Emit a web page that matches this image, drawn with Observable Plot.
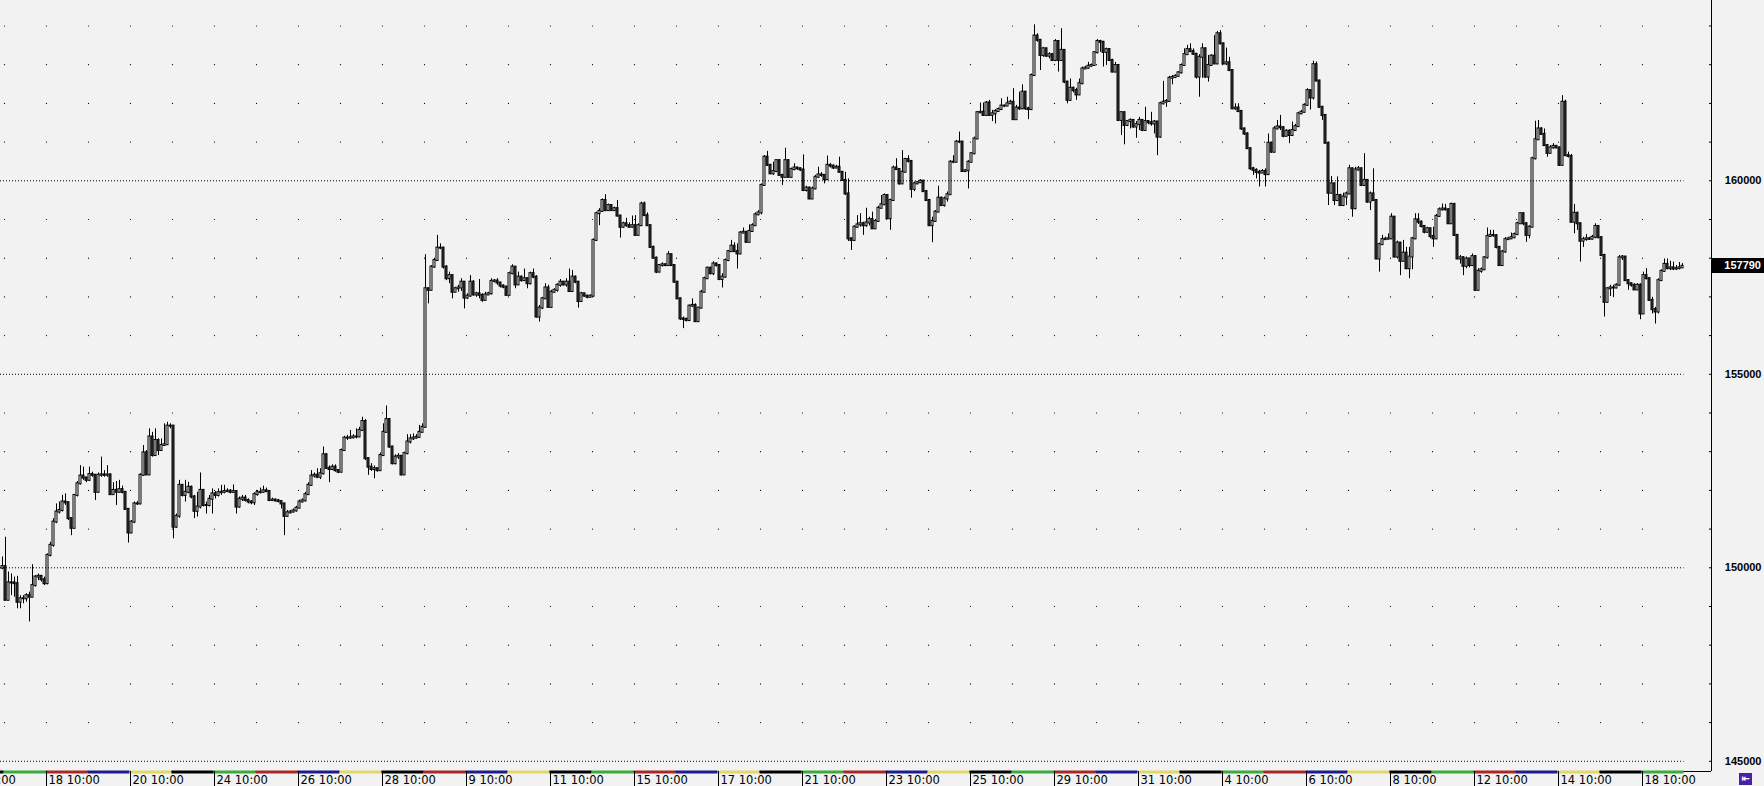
<!DOCTYPE html>
<html><head><meta charset="utf-8">
<script src="https://cdn.jsdelivr.net/npm/d3@7"></script>
<script src="https://cdn.jsdelivr.net/npm/@observablehq/plot@0.6"></script>
<style>
html,body{margin:0;padding:0;background:#f2f2f2;overflow:hidden}
#chart{position:relative;width:1764px;height:786px;background:#f2f2f2}
#chart svg{position:absolute;left:0;top:0}
.pricebox{position:absolute;background:#000;color:#fff;font:bold 11px "Liberation Sans",Arial,sans-serif;text-align:right;box-sizing:border-box;padding-right:3px;line-height:15px;height:15px}
.icon{position:absolute;width:13px;height:12px;background:#4b1fa8;color:#fff;font:bold 10px "DejaVu Sans",sans-serif;line-height:12px;text-align:center}
</style></head><body><div id="chart"></div>
<script>
// Sessions: Dec 14 (last bar only), then Dec 17 2018 .. Feb 18 2019, 14 hourly bars per session
const sessionDays = [14,17,18,19,20,21,24,25,26,27,28,8,9,10,11,14,15,16,17,18,21,22,23,24,25,28,29,30,31,1,4,5,6,7,8,11,12,13,14,15,18];
const sessionWeekdays = [5,1,2,3,4,5,1,2,3,4,5,2,3,4,5,1,2,3,4,5,1,2,3,4,5,1,2,3,4,5,1,2,3,4,5,1,2,3,4,5,1];
const barsPerSession = 14;
const firstOpen = 149990;

const closePrices = [150030,
149160,149610,149610,149590,149110,149200,149200,149280,149240,149540,149760,149780,149690,149590,
150320,150580,151180,151440,151480,151700,151680,151270,151020,151870,152170,152370,152320,152260,
152410,152390,151950,152390,152400,152390,152400,151890,152000,151950,152020,151950,151510,150900,
151180,151650,151650,152390,152970,152400,153380,152900,153290,153030,153160,153180,153660,153660,
151050,151330,152130,151870,151950,152080,151830,151460,151570,152000,151610,151610,151770,151910,
151870,151940,151950,151970,151980,151950,151970,151570,151770,151800,151740,151700,151680,151890,
151940,151950,151990,151970,151740,151750,151730,151710,151650,151330,151420,151440,151470,151540,
151700,151730,151890,152130,152370,152390,152340,152430,152920,152570,152540,152600,152510,152470,
153030,153350,153350,153360,153380,153380,153550,153780,152820,152600,152540,152560,152510,152900,
153500,153830,153120,152690,152860,152880,152400,152950,153250,153330,153350,153370,153500,153630,
157210,157170,157770,157940,158260,158260,157770,157470,157550,157120,157210,157230,157380,156970,
157020,157380,157050,157080,157040,156910,157050,157080,157400,157410,157360,157280,157250,157040,
157600,157770,157310,157510,157420,157470,157340,157600,157510,156480,156710,156950,157230,156730,
157120,157170,157300,157380,157310,157380,157140,157510,157380,156880,157080,157020,156990,157020,
158460,159150,159210,159490,159230,159360,159230,159280,159090,158800,158890,158840,158800,158840,
158590,158840,159400,159100,158840,158280,158000,157640,157810,157830,157810,158090,157810,157380,
156950,156430,156420,156390,156760,156780,156360,156710,157120,157470,157740,157600,157850,157810,
157450,157510,157940,158170,158310,158170,158110,158650,158670,158410,158690,158840,159120,159170,
159880,160610,160400,160180,160240,160520,160140,160090,160520,160090,160290,160330,160310,160280,
159750,159810,159530,159790,160090,160150,160140,160030,160400,160380,160330,160350,160220,160010,
159660,158500,158460,158800,158860,158890,158840,158910,159000,158760,158950,159290,159380,159620,
159020,159490,160330,160290,159920,160220,160550,160500,159780,159920,159950,159990,159720,159490,
158840,158950,159190,159550,159360,159530,159640,160480,160480,161000,161000,160240,160260,160480,
160700,161080,161760,161770,161690,162010,161690,161730,161790,161840,161930,161930,161990,162030,
161580,161880,161860,162290,161860,161840,162720,163740,163630,163240,163410,163220,163260,163110,
163600,163110,163370,162550,162080,162390,162330,162220,162510,162890,162910,162960,162980,163310,
163600,163580,163320,163390,163110,162810,162980,161560,161760,161430,161530,161560,161390,161450,
161560,161300,161530,161500,161470,161520,161130,161990,162030,162050,162650,162670,162700,162790,
162980,163260,163390,163340,163270,162680,163190,163410,162680,162980,163220,163020,163800,163540,
163020,163050,162850,161860,161880,161790,161340,161210,160830,160310,160270,160220,160200,160240,
160160,160970,160740,161340,161390,161370,161150,161280,161170,161300,161400,161730,161770,161950,
162330,162140,163000,162580,161900,161690,160970,159680,159920,159490,159620,159360,159580,159660,
160310,159280,160280,160310,159880,160010,159450,159660,159490,157980,158350,158480,158490,158500,
159060,158030,158390,157920,158130,157730,158030,158500,158990,158930,158820,158670,158760,158560,
158500,159080,159250,159270,159250,158890,159390,158590,157980,158010,157790,157980,157810,158040,
157170,157660,157700,158010,158560,158590,158580,158280,157810,158160,158480,158500,158530,158610,
158890,159150,158890,158590,158800,160570,161060,161340,161200,160910,160710,160850,160890,160850,
160400,162030,160650,160630,158930,159160,158890,158440,158480,158500,158490,158540,158820,158530,
158070,156860,157210,157230,157230,157300,158010,158030,157420,157340,157300,157180,157300,156560,
157550,157470,156910,156670,156610,157420,157660,157840,157730,157750,157720,157730,157750,157790];

const highPrices = [150280,
150790,149890,149840,149760,149780,149280,149280,149330,149370,150080,149800,149840,149800,149760,
150360,150660,151270,151650,151700,151870,151910,151700,151280,151890,152230,152640,152600,152340,
152600,152470,152400,152450,152860,152510,152640,152420,152200,152230,152260,152110,151970,151520,
151220,151700,151710,152430,153160,153030,153590,153500,153590,153330,153330,153720,153760,153720,
153680,151390,152260,152140,152260,152210,152110,151870,151950,152450,152020,151700,151870,152040,
151970,152040,152130,152130,152040,152020,152140,151990,151830,151870,151870,151780,151740,151940,
152000,152060,152110,152060,152000,151800,151780,151770,151740,151540,151480,151480,151520,151590,
151750,151780,151950,152200,152510,152450,152560,152560,153120,152950,152630,152660,152660,152540,
153070,153400,153420,153550,153440,153590,153630,153890,153830,152830,152690,152630,152570,152970,
153720,154180,153850,153140,152920,152950,152880,152990,153440,153440,153460,153440,153680,153720,
158090,157230,157810,158000,158590,158370,158280,157810,157640,157510,157250,157300,157470,157380,
157080,157550,157420,157120,157450,157080,157120,157120,157470,157450,157470,157340,157310,157280,
157640,157830,157740,157640,157540,157720,157480,157640,157720,157550,156780,156990,157340,157300,
157170,157210,157340,157450,157400,157470,157720,157680,157540,157400,157120,157080,157040,157050,
158500,159190,159280,159530,159640,159400,159380,159320,159490,159100,158930,159030,158910,159090,
159100,158890,159450,159450,159170,158860,158310,158030,157830,157880,157850,158170,158100,157830,
157400,156970,156480,156450,156790,156950,156820,156730,157170,157510,157770,157770,157910,157880,
157830,157600,157980,158200,158460,158400,158370,158690,158780,158690,158860,158890,159170,159230,
159920,160650,160760,160410,160480,160550,160550,160150,160840,160550,160330,160440,160350,160330,
160670,159860,159840,159840,160140,160350,160210,160150,160640,160440,160410,160400,160610,160240,
160220,160050,158520,158840,159100,159150,158930,159290,159060,159190,159000,159340,159620,159660,
159550,159530,160380,160570,160310,160780,160580,160650,160520,159970,159980,160030,160010,159750,
159520,159060,159230,159860,159580,159580,159710,160520,160650,161040,161260,161020,160290,160520,
160720,161130,161790,162010,162010,162050,162080,161820,161840,161880,162120,161960,162160,162080,
162380,161950,162290,162480,162310,161900,162760,164030,163800,163650,163450,163430,163310,163280,
163650,163600,163930,163390,162570,162630,162420,162390,162630,162940,162960,163060,163020,163340,
163650,163630,163600,163430,163410,163140,163060,163000,161790,161770,161560,161600,161580,161530,
161640,161580,161900,161560,161770,161560,161530,162030,162570,162100,162700,162720,162740,162820,
163020,163410,163500,163540,163410,163280,163260,163540,163430,163240,163260,163750,163860,163880,
163510,163430,163190,162870,161990,161990,161820,161360,161240,160840,160350,160310,160270,160290,
160310,161210,161000,161400,161560,161690,161400,161320,161320,161520,161460,161770,161820,161990,
162380,162350,163090,163070,162590,161920,161710,161000,160110,159940,160100,159650,159680,159710,
160400,160330,160350,160370,160330,160700,160030,159710,160310,159510,158390,158590,158540,158630,
159150,159080,158440,158410,158460,158280,158280,158540,159150,159150,158960,158840,158800,158780,
158800,159130,159300,159400,159390,159280,159420,159400,158610,158070,158040,158030,157980,158110,
158070,157730,157750,158040,158780,158720,158720,158610,158300,158200,158530,158540,158650,158650,
158930,159160,159160,158910,158840,160610,161540,161560,161370,161340,160940,160910,160960,160910,
160870,162200,162080,160740,160680,159390,159190,158910,158540,158610,158540,158590,158890,158840,
158540,158100,157230,157300,157300,157340,158070,158070,158040,157440,157360,157340,157340,157340,
157640,157730,157490,156990,156730,157470,157700,157980,157980,157920,157900,157810,157890,157860];

const lowPrices = [149950,
149160,149160,149280,149240,148940,148940,149070,149110,148600,149240,149500,149670,149630,149540,
149560,150280,150530,151140,151390,151440,151610,151220,150830,151010,151830,152140,152260,152200,
152230,152340,151740,151940,152340,152340,152340,151870,151870,151610,151940,151910,151480,150640,
150880,151140,151610,151630,152370,152390,152390,152860,152900,152900,153030,153140,153160,153590,
150750,151020,151280,151830,151700,151910,151780,151270,151310,151520,151570,151390,151570,151390,
151780,151830,151870,151910,151940,151910,151920,151390,151540,151710,151700,151650,151630,151610,
151850,151910,151930,151940,151710,151710,151700,151680,151520,150830,151310,151390,151420,151440,
151540,151680,151700,151870,152110,152320,152300,152280,152400,152540,152200,152510,152470,152430,
152450,153010,153290,153320,153330,153330,153370,153520,152770,152390,152490,152300,152470,152490,
152880,153490,153090,152660,152660,152800,152370,152390,152920,153200,153290,153320,153350,153490,
153600,156820,157170,157740,157940,158220,157720,157420,157340,156950,157120,157120,157140,156690,
156930,156990,157020,156990,156950,156860,157020,157040,157050,157360,157300,157230,157210,157020,
157040,157570,157210,157400,157380,157410,157210,157310,157470,156450,156350,156670,156930,156710,
156710,157100,157120,157250,157280,157250,157120,157120,157340,156710,156860,156990,156950,156970,
156990,158430,158840,159190,159210,159210,159210,159210,159060,158520,158780,158800,158780,158780,
158570,158570,158830,159090,158830,158260,157980,157600,157620,157770,157780,157790,157790,157360,
156930,156390,156180,156350,156360,156730,156350,156350,156690,157100,157450,157570,157550,157770,
157420,157230,157480,157910,158160,158160,157720,158090,158630,158400,158400,158670,158830,159100,
159120,159860,160380,160160,160140,160210,160120,159880,160070,160070,160070,160260,160270,160240,
159720,159710,159520,159520,159770,160070,160090,159920,160010,160330,160290,160310,160210,159990,
159620,158430,158200,158430,158780,158800,158590,158800,158830,158740,158740,158930,159280,159360,
159000,158720,159470,160270,159890,159920,160210,160460,159550,159720,159900,159950,159710,159470,
158830,158400,158930,159290,159340,159320,159450,159620,160440,160460,160960,160220,160210,159790,
160460,160670,161070,161730,161670,161670,161670,161530,161470,161770,161820,161890,161930,161980,
161560,161560,161820,161840,161820,161580,161820,162700,163580,162850,163190,163190,163150,163080,
163080,162810,163080,162510,161990,162050,162270,162080,162200,162480,162880,162880,162940,162960,
163280,163320,162940,162980,163080,162790,162790,161530,161170,160930,161410,161340,161360,161100,
161300,161270,161300,161450,161410,161210,160650,161100,161960,161900,162030,162480,162640,162680,
162760,162960,163240,163310,163240,162630,162160,162650,162650,162550,162960,163000,163000,163510,
163000,162980,162820,161840,161820,161760,161300,161170,160810,160270,160140,160050,159840,160200,
159840,160140,160710,160710,161320,161300,161110,161130,160960,161150,161280,161390,161710,161750,
161920,161830,162090,162550,161880,161560,160960,159360,159660,159360,159470,159340,159340,159360,
159640,159060,159250,160250,159850,159850,159420,159230,159470,157960,157640,158330,158460,158480,
158480,158010,157980,157550,157900,157700,157470,157700,158480,158870,158780,158630,158650,158500,
158280,158480,159060,159220,159220,158870,158870,158560,157960,157850,157550,157730,157750,157790,
157150,157150,157610,157680,157980,158540,158540,158240,157790,157790,158130,158460,158480,158500,
158590,158870,158840,158410,158500,158790,160540,161040,161170,160890,160610,160700,160820,160830,
160370,160370,160630,160590,158910,158630,158720,157900,158280,158440,158460,158480,158500,158500,
158040,156480,156840,157010,156980,157210,157270,157940,157410,157170,157250,157170,157230,156410,
156550,157440,156890,156560,156300,156560,157410,157640,157700,157680,157680,157680,157700,157750];

const gridStep = 1000, labelStep = 5000;
const weekdayColors = {1:"#3caa3c", 2:"#a82828", 3:"#1c1c8c", 4:"#e2d86a", 5:"#000000"};

// ---- chart geometry ----
const W = 1764, H = 786, mR = 53, mB = 15;
const bg = "#f2f2f2";
const xDomain = [-5/3, 1706/3];
const yDomain = [144736, 164659];
const frameBottom = H - mB;
const pricePerPx = (yDomain[1] - yDomain[0]) / frameBottom;

const bars = closePrices.map((c, k) => ({
  i: k - 1,
  open: k === 0 ? firstOpen : closePrices[k - 1],
  close: c, high: highPrices[k], low: lowPrices[k]
}));
const lastBar = bars[bars.length - 1];

const sessions = sessionDays.map((d, k) => ({
  day: d, wd: sessionWeekdays[k], start: (k - 1) * barsPerSession
}));
const labeled = sessions.filter((s, k) => k % 2 === 0);
const labelMap = new Map(labeled.map(s => [s.start - 1/3, `${s.day} 10:00`]));

const gridDots = [];
for (const s of sessions.slice(1)) {
  for (let p = 145000; p <= 164000; p += gridStep) {
    if (p % labelStep !== 0) gridDots.push({x: s.start - 1/3, y: p});
  }
}
const levels = d3.range(145000, 165000, labelStep);
const ticks1000 = d3.range(145000, 165000, gridStep);

const chart = Plot.plot({
  width: W, height: H,
  marginTop: 0, marginLeft: 0, marginRight: mR, marginBottom: mB,
  x: {type: "linear", domain: xDomain},
  y: {type: "linear", domain: yDomain},
  style: {background: bg, overflow: "visible"},
  marks: [
    Plot.dot(gridDots, {x: "x", y: "y", r: 0.6, fill: "#000", stroke: null}),
    Plot.ruleY(levels, {x1: xDomain[0], x2: lastBar.i + 0.5, stroke: "#000", strokeDasharray: "1,2"}),
    Plot.ruleX(bars, {x: "i", y1: d => Math.min(d.low, d.open, d.close), y2: d => Math.max(d.high, d.open, d.close), stroke: "#000", strokeWidth: 1}),
    Plot.rect(bars, {
      x1: d => d.i - 1/3, x2: d => d.i + 1/3, y1: "open", y2: "close",
      fill: d => d.close >= d.open ? bg : "#3c3c3c", stroke: "#000", strokeWidth: 1,
      insetTop: -0.5, insetBottom: -0.5
    }),
    Plot.ruleY([yDomain[0]], {x1: xDomain[0], x2: xDomain[1], stroke: "#000"}),
    Plot.rect(sessions, {
      x1: d => d.start - 0.5, x2: d => d.start + barsPerSession - 0.5,
      y1: yDomain[0] + 0.5 * pricePerPx, y2: yDomain[0] - 2.5 * pricePerPx,
      fill: d => weekdayColors[d.wd]
    }),
    Plot.ruleX([xDomain[1]], {stroke: "#000"}),
    Plot.axisY(ticks1000, {anchor: "right", tickSize: -3, tickFormat: () => "", label: null, stroke: "#000"}),
    Plot.axisY(levels, {anchor: "right", tickSize: 0, tickPadding: 50, textAnchor: "end", tickFormat: d => String(d), label: null,
      fontWeight: "bold", fontSize: 11, fontFamily: "Liberation Sans, Arial, sans-serif", fill: "#000"}),
    Plot.axisX([...labelMap.keys()], {anchor: "bottom", tickSize: 15, tickFormat: () => "", label: null, stroke: "#000"}),
    Plot.axisX([...labelMap.keys()], {anchor: "bottom", tickSize: 0, tickPadding: 4, textAnchor: "start", dx: 2,
      tickFormat: d => labelMap.get(d), label: null, fontSize: 11.5, fontFamily: "DejaVu Sans, sans-serif", fill: "#000"})
  ]
});
const root = document.getElementById("chart");
root.appendChild(chart);

// current price box on the price axis
const yScale = d3.scaleLinear().domain(yDomain).range([frameBottom, 0]);
const box = document.createElement("div");
box.className = "pricebox";
box.textContent = String(lastBar.close);
box.style.left = (W - mR + 1) + "px";
box.style.width = (mR - 1) + "px";
box.style.top = Math.round(yScale(lastBar.close) - 7.5) + "px";
root.appendChild(box);

const icon = document.createElement("div");
icon.className = "icon";
icon.textContent = "⇤";
icon.style.left = "1739px";
icon.style.top = "773px";
root.appendChild(icon);
</script></body></html>
